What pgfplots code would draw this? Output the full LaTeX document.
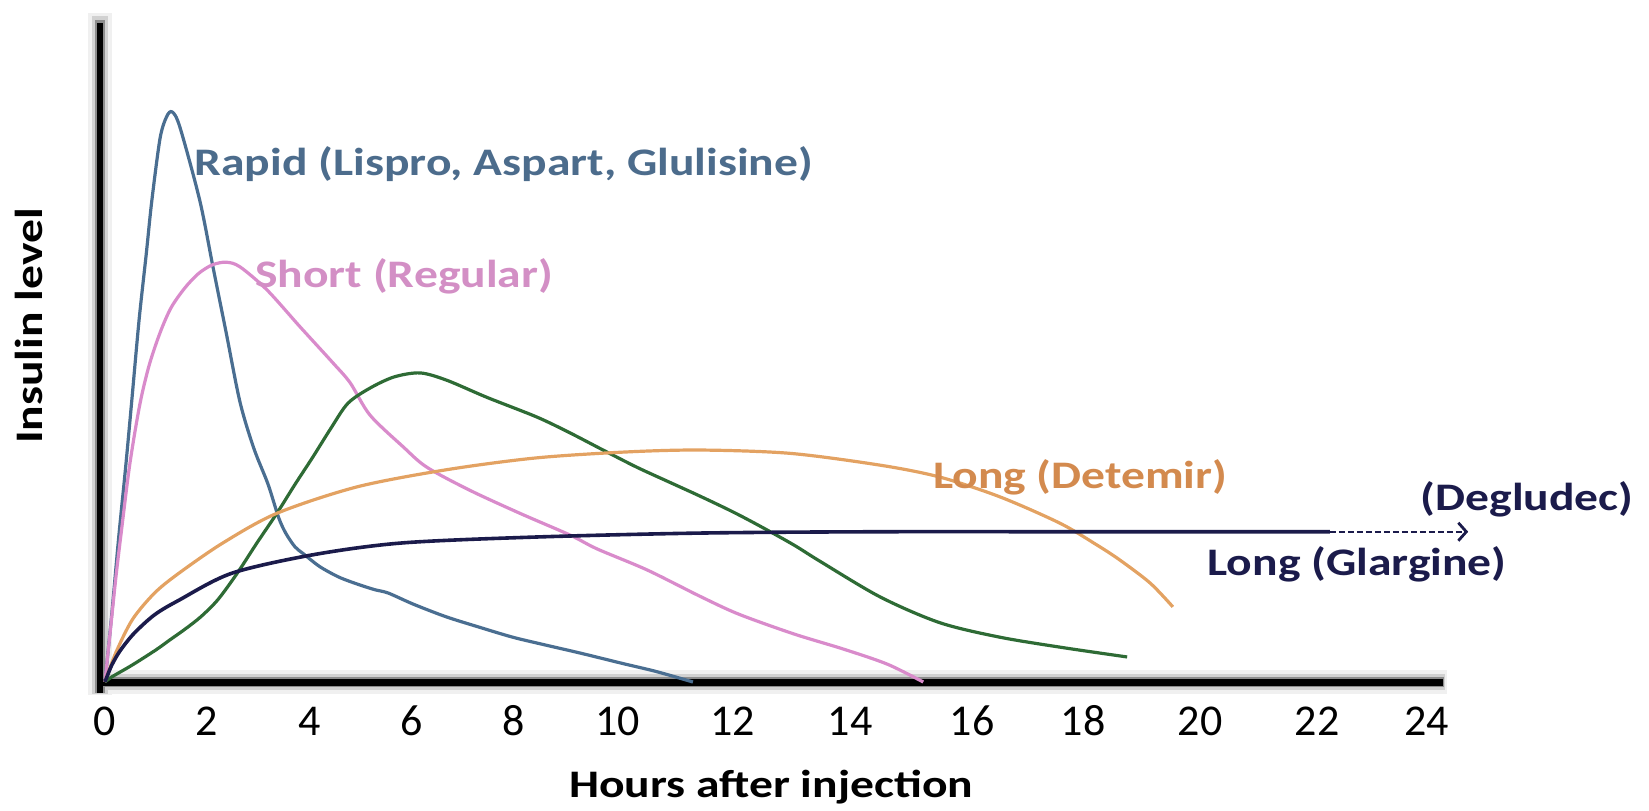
\documentclass[border=0pt]{standalone}
\usepackage{fontspec}
\setmainfont{Carlito}
\newfontfamily\lblfont[FakeStretch=1.22]{Carlito}
\usepackage{pgfplots}
\pgfplotsset{compat=1.18}
\usetikzlibrary{arrows.meta}
\definecolor{crapid}{HTML}{4A6E91}
\definecolor{trapid}{HTML}{4C6C8C}
\definecolor{cshort}{HTML}{D98BCB}
\definecolor{tshort}{HTML}{D38FC5}
\definecolor{cnph}{HTML}{2E6B35}
\definecolor{cdet}{HTML}{E3A262}
\definecolor{tdet}{HTML}{D38A4E}
\definecolor{cnavy}{HTML}{1B1B4B}
\newcommand{\lbl}{\fontsize{19.5}{23}\lblfont\bfseries}
\begin{document}
\begin{tikzpicture}
\useasboundingbox (0,0) rectangle (824.5pt,405pt);
\begin{axis}[
  at={(50pt,64pt)}, anchor=south west,
  scale only axis, width=685.75pt, height=329.5pt,
  xmin=-0.09, xmax=24.8, ymin=0, ymax=100,
  axis line style={draw=none},
  clip=false,
  ytick=\empty,
  xtick={0,1.851,3.721,5.572,7.423,9.310,11.397,13.521,15.735,17.750,19.873,21.996,23.99},
  xticklabels={0,2,4,6,8,10,12,14,16,18,20,22,24},
  major tick length=0pt,
  /pgf/number format/assume math mode=true,
  xticklabel style={font=\fontsize{22}{26}\selectfont, anchor=center, yshift=-19.5pt},
  xlabel={Hours after injection},
  xlabel style={font=\lbl, at={(axis description cs:0.4894,-0.176)}, anchor=base},
  ylabel={Insulin level},
  ylabel style={font=\lbl, at={(axis description cs:-0.052,0.54)}, anchor=center},
  every axis plot/.append style={smooth, tension=0.5, line width=1.6pt},
]
% axis lines with soft shadow
\draw[line width=12pt, black!6] (axis cs:-0.09,-2) -- (axis cs:-0.09,101.5);
\draw[line width=12pt, black!6] (axis cs:-0.09,0) -- (axis cs:24.35,0);
\draw[line width=8pt, black!18] (axis cs:-0.09,-1.8) -- (axis cs:-0.09,101);
\draw[line width=8pt, black!18] (axis cs:-0.09,0) -- (axis cs:24.32,0);
\draw[line width=5pt, black!45] (axis cs:-0.09,-1.7) -- (axis cs:-0.09,100.5);
\draw[line width=5pt, black!45] (axis cs:-0.09,0) -- (axis cs:24.3,0);
\draw[line width=3pt, black] (axis cs:-0.09,-1.7) -- (axis cs:-0.09,100);
\draw[line width=3.5pt, black] (axis cs:-0.09,0) -- (axis cs:24.28,0);

% Rapid
\addplot[crapid] coordinates {
(0,0) (0.12,10) (0.25,22) (0.38,33) (0.49,43) (0.62,55) (0.75,65) (0.85,73)
(1.0,82.5) (1.12,85.8) (1.22,86.5) (1.36,84.2) (1.72,73.1) (1.96,63) (2.2,53)
(2.45,42.5) (2.7,35.5) (2.96,30) (3.15,25) (3.28,22.6) (3.45,20.5) (3.61,19.4)
(3.9,17.5) (4.25,15.9) (4.6,14.8) (4.9,14) (5.14,13.5) (5.6,11.8) (6.19,9.9)
(6.8,8.3) (7.4,6.8) (8.0,5.6) (8.62,4.4) (9.4,2.8) (10.0,1.6) (10.67,0)};
% Short
\addplot[cshort] coordinates {
(0,0) (0.1,8) (0.2,16) (0.3,23) (0.45,33) (0.63,42) (0.8,48) (1.0,53) (1.2,56.8)
(1.45,59.8) (1.7,62) (1.95,63.3) (2.2,63.7) (2.45,63) (2.94,59.5) (3.54,53.9)
(4.14,48.4) (4.45,45.4) (4.81,40.5) (5.41,35.7) (5.84,32.6) (6.62,29.1)
(7.53,25.6) (8.44,22.3) (8.93,20.2) (9.84,17) (10.8,13) (11.5,10.3) (12.5,7.3)
(13.4,5) (14.2,2.7) (14.85,0)};
% Intermediate (NPH)
\addplot[cnph] coordinates {
(0,0) (0.13,0.8) (0.5,2.6) (0.93,4.9) (1.18,6.4) (1.45,8) (1.74,9.9) (2.05,12.5)
(2.4,16.5) (2.75,21) (3.12,25.6) (3.45,30) (3.77,34.1) (4.1,38.5) (4.41,42.3)
(4.81,44.6) (5.25,46.3) (5.72,46.9) (6.2,45.8) (6.93,43.2) (7.84,40.2)
(8.44,37.8) (9.04,35.2) (9.65,32.6) (10.25,30.3) (10.8,28.2) (11.4,25.8)
(11.9,23.6) (12.5,20.8) (12.98,18.3) (14.07,12.9) (15.15,9.0) (16.24,6.8)
(17.4,5.2) (18.55,3.8)};
% Long (Detemir)
\addplot[cdet] coordinates {
(0,0) (0.2,4.5) (0.5,9.5) (0.9,13.5) (1.34,16.5) (2.14,21.1) (3.12,25.6)
(4.57,29.6) (6.19,32.2) (7.82,34) (9.44,34.9) (10.8,35.2) (12.43,34.7)
(14.07,32.9) (15.15,31.1) (16.24,28.1) (17.33,24.1) (18.0,20.8) (18.42,18.5)
(18.97,15) (19.38,11.4)};
% Long (Glargine)
\addplot[cnavy, line width=1.8pt] coordinates {
(0,0) (0.12,2.5) (0.28,4.8) (0.53,7.4) (0.9,10.2) (1.34,12.4) (2.3,16.5)
(3.77,19.3) (5.39,21.1) (7.82,22.0) (10.8,22.6) (14,22.8) (18,22.8) (22.23,22.8)};
% Degludec extension
\addplot[cnavy, line width=1.2pt, sharp plot, dash pattern=on 3pt off 1.5pt,
  -{Straight Barb[length=4pt,width=9pt,line width=1.4pt]}] coordinates {
(22.23,22.8) (24.74,22.8)};

\node[anchor=base west, text=trapid, font=\lbl] at (axis cs:1.5,76.8) {Rapid (Lispro, Aspart, Glulisine)};
\node[anchor=base west, text=tshort, font=\lbl] at (axis cs:2.6,59.8) {Short (Regular)};
\node[anchor=base west, text=tdet, font=\lbl] at (axis cs:14.9,29.4) {Long (Detemir)};
\node[anchor=base west, text=cnavy, font=\lbl] at (axis cs:23.75,26.1) {(Degludec)};
\node[anchor=base west, text=cnavy, font=\lbl] at (axis cs:19.88,16.2) {Long (Glargine)};
\end{axis}
\end{tikzpicture}
\end{document}
